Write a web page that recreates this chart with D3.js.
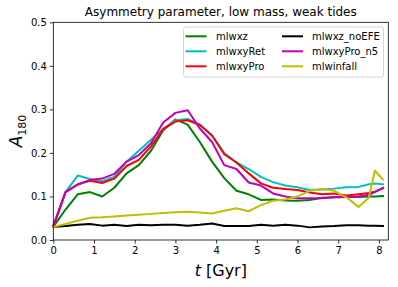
<!DOCTYPE html>
<html><head><meta charset="utf-8">
<script src="https://cdn.jsdelivr.net/npm/d3@7"></script>
<style>body{margin:0;background:#fff;} text{font-family:"DejaVu Sans",sans-serif;}</style>
</head><body><svg id="c" width="398" height="287"></svg>
<script>
const times = [0,0.3,0.6,0.9,1.2,1.5,1.8,2.1,2.4,2.7,3.0,3.3,3.6,3.9,4.2,4.5,4.8,5.1,5.4,5.7,6.0,6.3,6.6,6.9,7.2,7.5,7.75,7.9,8.1];
const mlwxz = [0.03,0.07,0.105,0.11,0.10,0.12,0.153,0.172,0.205,0.252,0.277,0.265,0.225,0.18,0.142,0.113,0.105,0.092,0.093,0.091,0.09,0.092,0.097,0.098,0.099,0.099,0.1,0.1,0.101];
const mlwxyRet = [0.03,0.11,0.148,0.14,0.135,0.145,0.18,0.205,0.23,0.255,0.275,0.278,0.265,0.24,0.2,0.178,0.163,0.145,0.133,0.125,0.121,0.115,0.116,0.118,0.121,0.122,0.128,0.13,0.128];
const mlwxyPro = [0.03,0.11,0.128,0.136,0.131,0.141,0.17,0.184,0.215,0.255,0.272,0.275,0.264,0.24,0.197,0.178,0.153,0.13,0.12,0.117,0.115,0.109,0.105,0.107,0.102,0.105,0.108,0.111,0.119];
const mlwxz_noEFE = [0.03,0.032,0.035,0.037,0.033,0.035,0.032,0.035,0.034,0.035,0.035,0.033,0.035,0.038,0.032,0.032,0.032,0.035,0.033,0.035,0.033,0.029,0.031,0.032,0.034,0.034,0.033,0.033,0.032];
const mlwxyPro_n5 = [0.033,0.11,0.127,0.138,0.141,0.152,0.18,0.195,0.222,0.27,0.292,0.298,0.256,0.225,0.172,0.163,0.132,0.125,0.107,0.1,0.096,0.096,0.096,0.098,0.099,0.1,0.104,0.11,0.12];
const mlwinfall = [0.03,0.037,0.044,0.051,0.052,0.054,0.056,0.058,0.06,0.062,0.064,0.065,0.063,0.061,0.067,0.073,0.066,0.08,0.09,0.093,0.1,0.113,0.117,0.113,0.098,0.076,0.097,0.159,0.139];
const seriesNames = ["mlwxz","mlwxyRet","mlwxyPro","mlwxz_noEFE","mlwxyPro_n5","mlwinfall"];
const seriesValues = [mlwxz,mlwxyRet,mlwxyPro,mlwxz_noEFE,mlwxyPro_n5,mlwinfall];
const seriesColors = ["#008000","#00bfbf","#ff0000","#000000","#bf00bf","#bfbf00"];
const xTicks = [0,1,2,3,4,5,6,7,8];
const yTicks = [0.0,0.1,0.2,0.3,0.4,0.5];

const svg = d3.select("#c");
const L=53.3, R=388.3, T=22.3, B=240;
const x = d3.scaleLinear().domain([0,8.23]).range([L,R]);
const y = d3.scaleLinear().domain([0,0.5]).range([B,T]);

const line = d3.line().x((d,i)=>x(times[i])).y(d=>y(d));
const g = svg.append("g");
seriesValues.forEach((vals,k)=>{
  g.append("path").attr("d",line(vals)).attr("fill","none")
   .attr("stroke",seriesColors[k]).attr("stroke-width",2).attr("stroke-linejoin","round").attr("stroke-linecap","square");
});

const xa = svg.append("g").attr("transform",`translate(0,${B})`)
  .call(d3.axisBottom(x).tickValues(xTicks).tickSize(3.5).tickPadding(3).tickFormat(d3.format("d")));
const ya = svg.append("g").attr("transform",`translate(${L},0)`)
  .call(d3.axisLeft(y).tickValues(yTicks).tickSize(3.5).tickPadding(3).tickFormat(d3.format(".1f")));
[xa,ya].forEach(a=>{a.select(".domain").remove(); a.selectAll("text").attr("font-size",10).attr("fill","#000").attr("font-family","DejaVu Sans"); a.selectAll("line").attr("stroke","#000").attr("stroke-width",0.8);});

svg.append("rect").attr("x",L).attr("y",T).attr("width",R-L).attr("height",B-T)
  .attr("fill","none").attr("stroke","#000").attr("stroke-width",0.8);

svg.append("text").attr("x",(L+R)/2).attr("y",16).attr("text-anchor","middle").attr("font-size",12).text("Asymmetry parameter, low mass, weak tides");

const xl = svg.append("text").attr("x",(L+R)/2).attr("y",276).attr("text-anchor","middle").attr("font-size",16);
xl.append("tspan").attr("font-style","italic").text("t");
xl.append("tspan").text(" [Gyr]");

const yl = svg.append("text").attr("transform","translate(22,131) rotate(-90)").attr("text-anchor","middle").attr("font-size",17);
yl.append("tspan").attr("font-style","italic").text("A");
yl.append("tspan").attr("font-size",11).attr("dy",4).text("180");

// legend
const lg = svg.append("g");
lg.append("rect").attr("x",183.5).attr("y",27).attr("width",200).attr("height",50).attr("rx",2.5)
  .attr("fill","#fff").attr("fill-opacity",0.8).attr("stroke","#ccc").attr("stroke-width",0.8);
seriesNames.forEach((n,k)=>{
  const col = Math.floor(k/3), row = k%3;
  const lx = col===0?185.5:282, tx = col===0?216:312, ly = 36.3+row*15;
  lg.append("line").attr("x1",lx).attr("x2",lx+21).attr("y1",ly).attr("y2",ly).attr("stroke",seriesColors[k]).attr("stroke-width",2);
  lg.append("text").attr("x",tx).attr("y",ly+3.6).attr("font-size",10).text(n);
});
</script></body></html>
